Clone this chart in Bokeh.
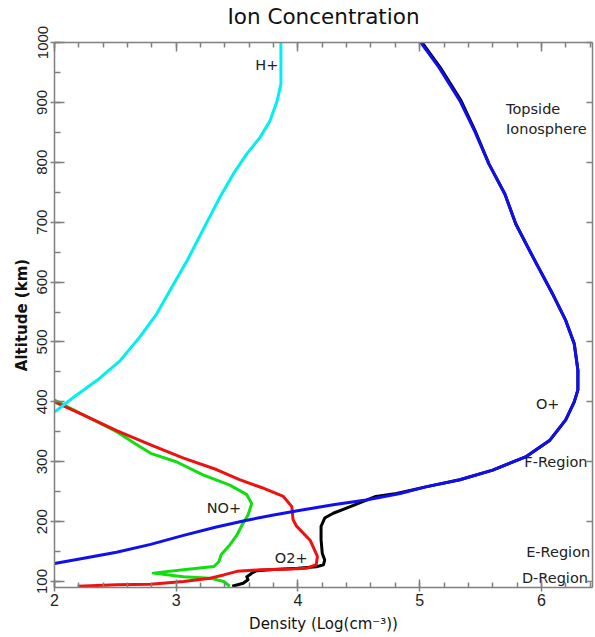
from bokeh.plotting import figure
from bokeh.models import LinearAxis, SingleIntervalTicker, Range1d, CustomJSTickFormatter
from bokeh.embed import file_html
from bokeh.resources import INLINE
from bokeh.core.properties import value

# ---- data (density in log10 cm^-3, altitude in km) ----
h_dens = [3.86, 3.86, 3.86, 3.83, 3.77, 3.69, 3.58, 3.47, 3.36, 3.26, 3.09, 2.98, 2.84, 2.70, 2.54, 2.35, 2.16, 2.00]
h_alt = [1000, 964, 931, 903, 869, 842, 814, 781, 742, 703, 636, 597, 547, 508, 469, 436, 408, 383]

o_dens = [5.01, 5.16, 5.33, 5.45, 5.57, 5.70, 5.79, 5.93, 6.09, 6.20, 6.27, 6.30, 6.30, 6.27, 6.20, 6.07, 5.87,
          5.60, 5.33, 5.05, 4.84, 4.56, 4.29, 4.02, 3.80, 3.57, 3.33, 3.06, 2.79, 2.51, 2.24, 2.00]
o_alt = [1000, 958, 903, 853, 797, 747, 697, 642, 581, 536, 497, 453, 420, 400, 370, 336, 308,
         286, 270, 258, 247, 236, 228, 219, 211, 202, 191, 177, 162, 149, 139, 130]

e_dens = [5.02, 5.17, 5.34, 5.455, 5.57, 5.70, 5.79, 5.93, 6.09, 6.20, 6.27, 6.30, 6.30, 6.27, 6.20, 6.07, 5.87,
          5.60, 5.33, 5.05, 4.81, 4.64, 4.43, 4.29, 4.22, 4.19, 4.19, 4.20, 4.22, 4.21, 4.15, 4.00, 3.80,
          3.66, 3.62, 3.61, 3.58, 3.59, 3.55, 3.46]
e_alt = [1000, 958, 903, 853, 797, 747, 697, 642, 581, 536, 497, 453, 420, 400, 370, 336, 308,
         286, 270, 258, 247, 242, 225, 214, 206, 192, 170, 147, 136, 128, 124.5, 122, 120,
         118, 114, 112, 108, 103, 97, 92]

o2_dens = [2.00, 2.24, 2.51, 2.79, 3.06, 3.33, 3.52, 3.70, 3.88, 3.95, 3.96, 3.99, 4.10, 4.16, 4.15, 4.07,
           3.90, 3.69, 3.50, 3.39, 3.28, 3.06, 2.79, 2.51, 2.19]
o2_alt = [400, 378, 352, 328, 306, 287, 270, 257, 242, 225, 203, 192, 169, 142, 128, 122,
          120.5, 119.5, 117, 111, 105.6, 100, 95.6, 94.5, 92]

no_dens = [2.00, 2.24, 2.51, 2.68, 2.79, 3.00, 3.22, 3.44, 3.58, 3.62, 3.59, 3.54, 3.50, 3.44, 3.37, 3.35,
           3.31, 3.06, 2.81, 3.06, 3.28, 3.39, 3.44]
no_alt = [403, 378, 350, 328, 314, 300, 278, 261, 245, 230, 211, 194, 178, 161, 145, 133,
          125, 119.5, 114, 108, 105.6, 100, 92]

label_text = ["H+", "Topside", "Ionosphere", "O+", "F-Region", "E-Region", "D-Region", "NO+", "O2+"]
label_x = [3.65, 5.71, 5.71, 5.955, 5.86, 5.875, 5.84, 3.25, 3.81]
label_y = [963, 889, 856, 396, 299, 149, 106, 222, 139]

TITLE = "Ion Concentration"

AXIS_GRAY = "#808080"
TICK_FONT = "'Liberation Sans Narrow', 'Liberation Sans', sans-serif"

p = figure(width=595, height=637, x_range=Range1d(2, 6.42), y_range=Range1d(90, 1000),
           output_backend="svg", toolbar_location=None,
           min_border_left=54, min_border_right=3, min_border_top=42, min_border_bottom=50)
p.grid.visible = False
p.outline_line_color = None
p.background_fill_color = "white"

xax = p.xaxis[0]
xax.ticker = SingleIntervalTicker(interval=1, num_minor_ticks=5)
xax.axis_label = "Density (Log(cm\u207b\u00b3))"
xax.axis_label_text_font = "DejaVu Sans"
xax.axis_label_text_font_size = "15px"
xax.axis_label_text_font_style = "normal"
xax.axis_label_standoff = 6
xax.major_label_text_font = TICK_FONT
xax.major_label_text_font_size = "16px"
xax.major_label_standoff = 2

yax = p.yaxis[0]
yax.ticker = SingleIntervalTicker(interval=100, num_minor_ticks=2)
yax.axis_label = "Altitude (km)"
yax.axis_label_text_font = "DejaVu Sans"
yax.axis_label_text_font_size = "15px"
yax.axis_label_text_font_style = "bold"
yax.axis_label_standoff = 4
yax.major_label_text_font = TICK_FONT
yax.major_label_text_font_size = "15px"
yax.major_label_orientation = "vertical"
yax.major_label_standoff = 3

for ax in (xax, yax):
    ax.axis_line_color = AXIS_GRAY
    ax.axis_line_width = 1.5
    ax.major_tick_line_color = AXIS_GRAY
    ax.minor_tick_line_color = AXIS_GRAY
    ax.major_tick_line_width = 1.5
    ax.minor_tick_line_width = 1.5
    ax.major_label_text_color = "#222222"
    ax.axis_label_text_color = "#111111"
xax.major_tick_in = 8
xax.major_tick_out = 4
xax.minor_tick_in = 5
xax.minor_tick_out = 0
yax.major_tick_in = 10
yax.major_tick_out = 4
yax.minor_tick_in = 6
yax.minor_tick_out = 0

# top axis carries the chart title as its axis label
top = LinearAxis(ticker=SingleIntervalTicker(interval=1, num_minor_ticks=5),
                 formatter=CustomJSTickFormatter(code="return '';"), major_label_standoff=0,
                 axis_label=TITLE, axis_label_standoff=14,
                 axis_label_text_font="DejaVu Sans", axis_label_text_font_size="21.5px",
                 axis_label_text_font_style="normal", axis_label_text_color="#111111",
                 axis_line_color=AXIS_GRAY, axis_line_width=1.5,
                 major_tick_line_color=AXIS_GRAY, minor_tick_line_color=AXIS_GRAY,
                 major_tick_line_width=1.5, minor_tick_line_width=1.5,
                 major_tick_in=9, major_tick_out=0, minor_tick_in=5, minor_tick_out=0)
p.add_layout(top, "above")
right = LinearAxis(ticker=SingleIntervalTicker(interval=100, num_minor_ticks=0),
                   formatter=CustomJSTickFormatter(code="return '';"), major_label_standoff=0,
                   axis_line_color=AXIS_GRAY, axis_line_width=1.5,
                   major_tick_line_color=AXIS_GRAY, major_tick_line_width=1.5,
                   minor_tick_line_color=None,
                   major_tick_in=6, major_tick_out=0, minor_tick_in=0, minor_tick_out=0)
p.add_layout(right, "right")

LW = 3
p.line(e_dens, e_alt, line_color="black", line_width=LW, line_join="round")
p.line(no_dens, no_alt, line_color="#11dd11", line_width=LW, line_join="round")
p.line(o2_dens, o2_alt, line_color="#ee1111", line_width=LW, line_join="round")
p.line(o_dens, o_alt, line_color="#1010ee", line_width=LW, line_join="round")
p.line(h_dens, h_alt, line_color="#00f0f0", line_width=LW, line_join="round")

p.text(x=label_x, y=label_y, text=label_text, text_align="left", text_baseline="middle",
       text_font=value("DejaVu Sans"), text_font_size="14.5px", text_color="#222222")

open("out.html", "w").write(file_html(p, INLINE))
